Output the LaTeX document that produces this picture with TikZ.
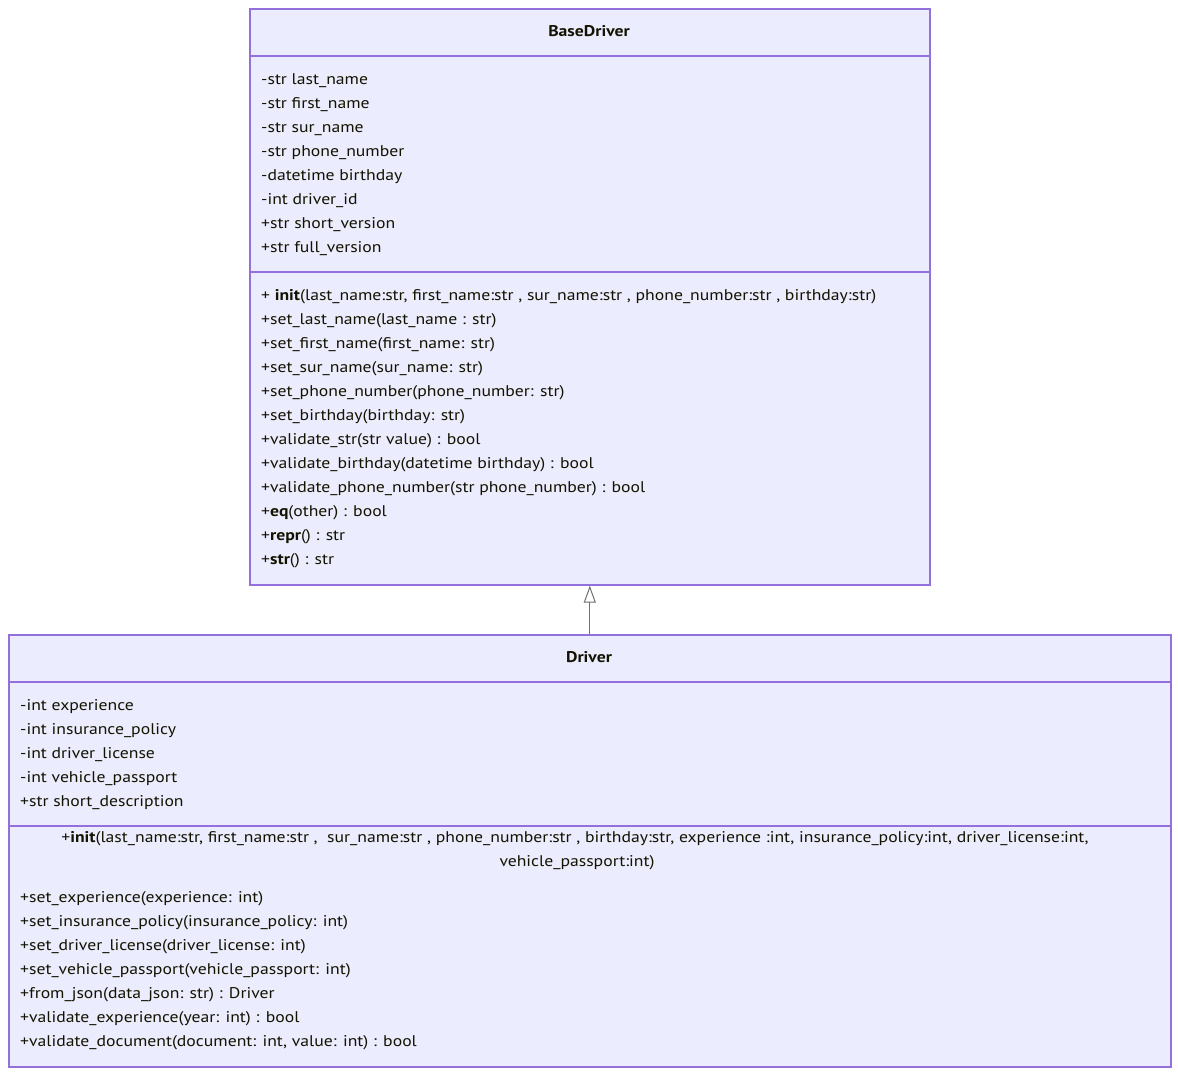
\documentclass[tikz,border=0pt]{standalone}
\usepackage{fontspec}
\setmainfont{PT Sans}[FakeStretch=1.14]
\usetikzlibrary{arrows.meta}
\definecolor{classfill}{HTML}{ECECFF}
\definecolor{classline}{HTML}{9370DB}
\definecolor{classtext}{HTML}{131300}
\definecolor{relline}{HTML}{707070}
\tikzset{
  classbox/.style={draw=classline, fill=classfill, line width=1.6pt, rectangle, inner sep=0pt, anchor=north west},
  divider/.style={draw=classline, line width=1.6pt},
  member/.style={anchor=base west, inner sep=0pt, text=classtext, font=\fontsize{15.5}{24}\selectfont},
  centered/.style={member, anchor=base},
  classtitle/.style={centered, font=\fontsize{15.5}{24}\selectfont\bfseries},
  inherit/.style={draw=relline, line width=1pt, -{Triangle[open, length=17pt, width=12pt, fill=white]}}
}
\begin{document}
\begin{tikzpicture}[x=1pt, y=-1pt]
\useasboundingbox (0,0) rectangle (1178,1074);

% BaseDriver class
\node[classbox, minimum width=680pt, minimum height=576pt] (base) at (249,8) {};
\draw[divider] (249,56) -- (929,56);
\draw[divider] (249,272) -- (929,272);
\node[classtitle] (baseT) at (589,36) {BaseDriver};
\foreach \t [count=\i from 0] in {
  {-str last\_name},
  {-str first\_name},
  {-str sur\_name},
  {-str phone\_number},
  {-datetime birthday},
  {-int driver\_id},
  {+str short\_version},
  {+str full\_version}}
  \node[member] (baseA\i) at (261,84+24*\i) {\t};
\foreach \t [count=\i from 0] in {
  {+ \textbf{init}(last\_name:str, first\_name:str , sur\_name:str , phone\_number:str , birthday:str)},
  {+set\_last\_name(last\_name : str)},
  {+set\_first\_name(first\_name: str)},
  {+set\_sur\_name(sur\_name: str)},
  {+set\_phone\_number(phone\_number: str)},
  {+set\_birthday(birthday: str)},
  {+validate\_str(str value) : bool},
  {+validate\_birthday(datetime birthday) : bool},
  {+validate\_phone\_number(str phone\_number) : bool},
  {+\textbf{eq}(other) : bool},
  {+\textbf{repr}() : str},
  {+\textbf{str}() : str}}
  \node[member] (baseM\i) at (261,300+24*\i) {\t};

% Driver class
\node[classbox, minimum width=1162pt, minimum height=432pt] (drv) at (8,634) {};
\draw[divider] (8,682) -- (1170,682);
\draw[divider] (8,826) -- (1170,826);
\node[classtitle] (drvT) at (589,662) {Driver};
\foreach \t [count=\i from 0] in {
  {-int experience},
  {-int insurance\_policy},
  {-int driver\_license},
  {-int vehicle\_passport},
  {+str short\_description}}
  \node[member] (drvA\i) at (20,710+24*\i) {\t};
\node[centered] (drvInit1) at (575,842) {+\textbf{init}(last\_name:str, first\_name:str ,\ \ sur\_name:str , phone\_number:str , birthday:str, experience :int, insurance\_policy:int, driver\_license:int,};
\node[centered] (drvInit2) at (577,866) {vehicle\_passport:int)};
\foreach \t [count=\i from 0] in {
  {+set\_experience(experience: int)},
  {+set\_insurance\_policy(insurance\_policy: int)},
  {+set\_driver\_license(driver\_license: int)},
  {+set\_vehicle\_passport(vehicle\_passport: int)},
  {+from\_json(data\_json: str) : Driver},
  {+validate\_experience(year: int) : bool},
  {+validate\_document(document: int, value: int) : bool}}
  \node[member] (drvM\i) at (20,902+24*\i) {\t};

% inheritance: Driver extends BaseDriver
\draw[inherit] (drv.north) -- (base.south);
\end{tikzpicture}
\end{document}
